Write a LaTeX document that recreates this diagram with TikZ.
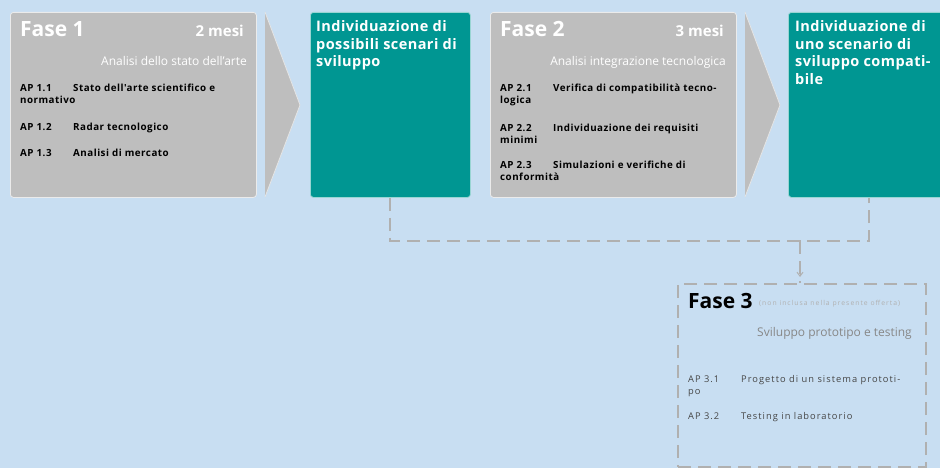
\documentclass[tikz,border=0pt]{standalone}
\usepackage{fontspec}
\setmainfont{Open Sans}
\newfontfamily\apfont[LetterSpace=5]{Open Sans}
\newfontfamily\tealfont[LetterSpace=3]{Open Sans}
\newfontfamily\widefont[LetterSpace=11]{Open Sans}
\newfontfamily\tinyfont[LetterSpace=15]{Open Sans}
\usetikzlibrary{arrows.meta}
\definecolor{bgblue}{RGB}{200,222,242}
\definecolor{boxgray}{RGB}{190,190,190}
\definecolor{teal2}{RGB}{0,150,146}
\definecolor{dashgray}{RGB}{176,176,176}
\definecolor{subgray}{RGB}{135,135,135}
\definecolor{apgray}{RGB}{70,70,70}
\tikzset{
  graybox/.style={fill=boxgray, draw=white!70!boxgray, line width=0.8pt, rounded corners=3pt, anchor=north west, inner sep=0pt},
  tealbox/.style={fill=teal2, draw=white!60!teal2, line width=0.8pt, rounded corners=3pt, anchor=north west, inner sep=0pt},
  chev/.style={fill=boxgray},
  dashline/.style={draw=dashgray, line width=2pt, dash pattern=on 13pt off 7pt},
  fasetitle/.style={anchor=base west, inner sep=0pt, font=\fontsize{21}{23}\selectfont\bfseries},
  mesi/.style={anchor=base east, inner sep=0pt, text=white, font=\fontsize{15}{17}\selectfont\bfseries},
  analisi/.style={anchor=base east, inner sep=0pt, text=white, font=\fontsize{12}{14}\selectfont},
  apitem/.style={anchor=base west, inner sep=0pt, text=black, font=\apfont\bfseries\fontsize{9.8}{12}\selectfont},
  apitemlight/.style={anchor=base west, inner sep=0pt, text=apgray, font=\widefont\fontsize{9.3}{12}\selectfont},
  tealtext/.style={anchor=base west, inner sep=0pt, text=white, font=\tealfont\bfseries\fontsize{14.5}{17.5}\selectfont},
}
\newcommand{\aplab}[1]{\makebox[53pt][l]{#1}}
\newcommand{\mlines}[1]{\parbox[t]{260pt}{\raggedright #1}}
\begin{document}
\begin{tikzpicture}[x=1pt,y=-1pt]
\useasboundingbox (0,0) rectangle (940,468);
\fill[bgblue] (0,0) rectangle (940,468);

% Fase 1 box
\node[graybox, minimum width=246pt, minimum height=185pt] (f1) at (10,12) {};
\fill[chev] (265,12) -- (300,105) -- (265,197) -- cycle;
\draw[white!60!boxgray, line width=0.8pt] (265,12) -- (300,105) -- (265,197);
\node[tealbox, minimum width=160pt, minimum height=185pt] (t1) at (310,12) {};

% Fase 2 box
\node[graybox, minimum width=246pt, minimum height=185pt] (f2) at (490,12) {};
\fill[chev] (745,12) -- (780,105) -- (745,197) -- cycle;
\draw[white!60!boxgray, line width=0.8pt] (745,12) -- (780,105) -- (745,197);
\node[tealbox, minimum width=162pt, minimum height=185pt] (t2) at (788,12) {};

% Fase 3 box (dashed)
\node[anchor=north west, draw=dashgray, line width=2pt, dash pattern=on 13pt off 7pt, minimum width=248pt, minimum height=183pt, inner sep=0pt] (f3) at (677,283) {};

% connectors
\coordinate (j) at (800,241);
\draw[dashline] (t1.south) -- (t1.south |- j) -- (j) -- (t2.south |- j) -- (t2.south);
\draw[dashline] (j) -- (f3.north -| j);
\draw[dashgray, line width=1pt, -{Straight Barb[length=4pt,width=6pt]}] (800,266) -- (800,277);

% Fase 1 text
\node[fasetitle, text=white] (f1t) at (20,37) {Fase 1};
\node[mesi] (f1m) at (244,37) {2 mesi};
\node[analisi] (f1a) at (247,66) {Analisi dello stato dell'arte};
\node[apitem] (ap11) at (20,92) {\mlines{\aplab{AP 1.1}Stato dell'arte scientifico e\\normativo}};
\node[apitem] (ap12) at (20,131) {\aplab{AP 1.2}Radar tecnologico};
\node[apitem] (ap13) at (20,157) {\aplab{AP 1.3}Analisi di mercato};

% Teal 1 text
\node[tealtext] (t1t) at (316,32) {\mlines{Individuazione di\\possibili scenari di\\sviluppo}};

% Fase 2 text
\node[fasetitle, text=white] (f2t) at (500,37) {Fase 2};
\node[mesi] (f2m) at (724,37) {3 mesi};
\node[analisi] (f2a) at (726,66) {Analisi integrazione tecnologica};
\node[apitem] (ap21) at (500,92) {\mlines{\aplab{AP 2.1}Verifica di compatibilità tecno-\\logica}};
\node[apitem] (ap22) at (500,132) {\mlines{\aplab{AP 2.2}Individuazione dei requisiti\\minimi}};
\node[apitem] (ap23) at (500,168) {\mlines{\aplab{AP 2.3}Simulazioni e verifiche di\\conformità}};

% Teal 2 text
\node[tealtext] (t2t) at (795,32) {\mlines{Individuazione di\\uno scenario di\\sviluppo compati-\\bile}};

% Fase 3 text
\node[fasetitle, text=black] (f3t) at (688,308) {Fase 3};
\node[anchor=base west, inner sep=0pt, text=white!35!subgray, font=\tinyfont\fontsize{6.8}{8}\selectfont] (f3n) at (759,305) {(non inclusa nella presente offerta)};
\node[anchor=base east, inner sep=0pt, text=subgray, font=\fontsize{12}{14}\selectfont] (f3a) at (912,336) {Sviluppo prototipo e testing};
\node[apitemlight] (ap31) at (688,382) {\mlines{\aplab{AP 3.1}Progetto di un sistema prototi-\\po}};
\node[apitemlight] (ap32) at (688,419) {\aplab{AP 3.2}Testing in laboratorio};
\end{tikzpicture}
\end{document}
